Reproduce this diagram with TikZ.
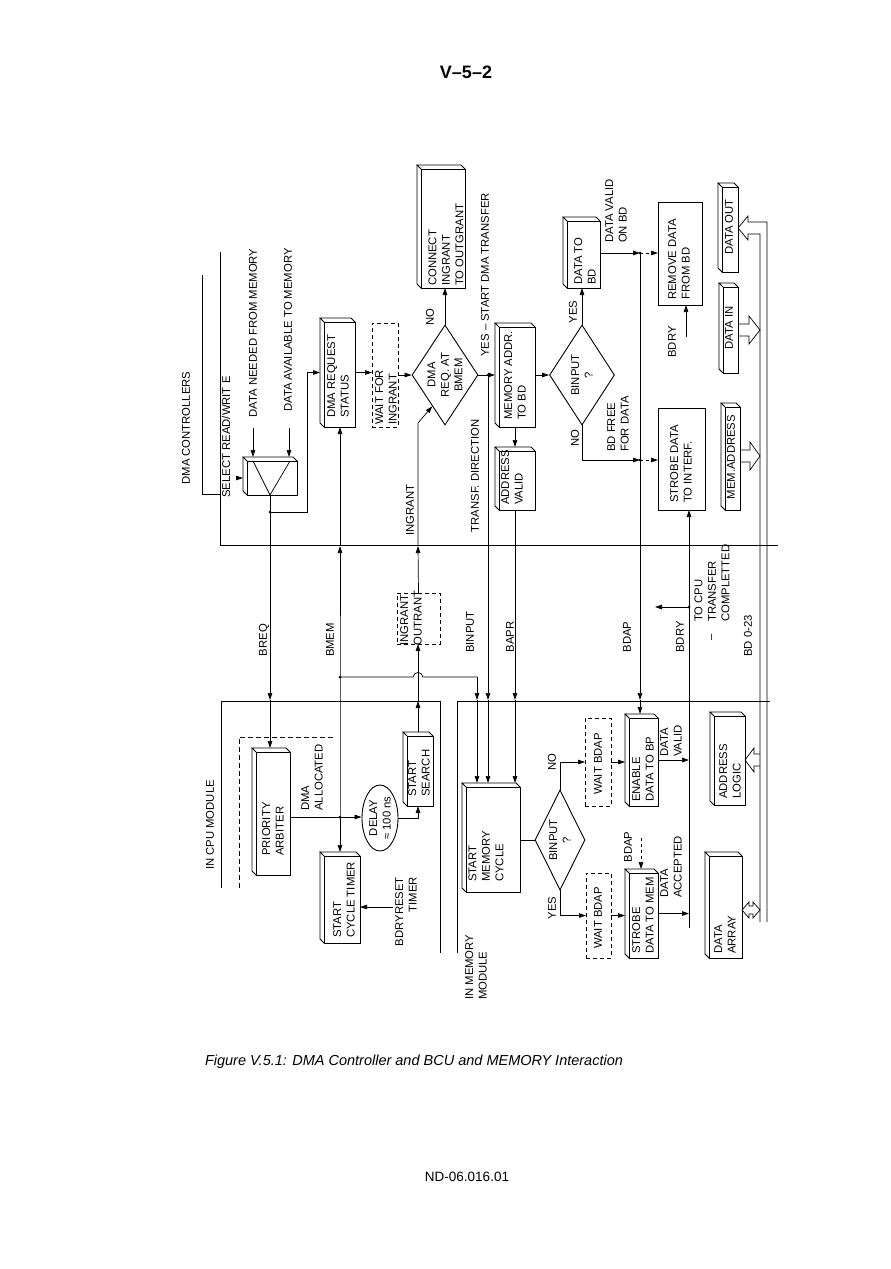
\documentclass[tikz,border=0pt]{standalone}
\usepackage{fontspec}
\setmainfont{Liberation Sans}
\usetikzlibrary{arrows.meta,shapes.geometric,calc}
\newcommand\lbl{\fontsize{11.3}{13.5}\selectfont}
\newcommand\bx[6][]{\node[inner sep=0pt,outer sep=0pt,minimum width={(#5-#3)*1pt},minimum height={(#6-#4)*1pt},#1] (#2) at ({(#3+#5)/2},{(#4+#6)/2}) {};}
\newcommand\tdf[1]{%
\draw[bxl] ([shift={(4,4)}]#1.north west) rectangle (#1.south east);
\draw[bxl] ([shift={(4,4)}]#1.north west) -- (#1.north west) -- ([shift={(-4,0)}]#1.north east) -- ([shift={(0,4)}]#1.north east);
\draw[bxl] (#1.north west) -- ([shift={(0,-4)}]#1.south west) -- ([shift={(4,0)}]#1.south west);}
\tikzset{
 t/.style={rotate=90,inner sep=0pt,font=\lbl,align=left},
 bxl/.style={line width=0.9pt},
 arr/.style={line width=0.7pt,-{Triangle[length=7pt,width=4.5pt]}},
 ln/.style={line width=0.7pt},
 dbox/.style={draw,dashed,line width=0.8pt,dash pattern=on 4pt off 3pt},
 pbox/.style={draw,line width=0.9pt},
 dot/.style={circle,fill,inner sep=0pt,minimum size=3pt}
}
\begin{document}
\begin{tikzpicture}[x=1pt,y=-1pt]
\useasboundingbox (0,0) rectangle (891,1269);
\fill[white] (0,0) rectangle (891,1269);

% header / footer
\node[font=\fontsize{18}{21}\selectfont\bfseries] (title) at (466,72) {V--5--2};
\node[font=\fontsize{14.5}{17}\selectfont\itshape] (cap) at (414,1062) {Figure V.5.1: DMA Controller and BCU and MEMORY Interaction};
\node[font=\fontsize{13.5}{16}\selectfont] (nd) at (467,1177) {ND-06.016.01};

% frame lines
\draw[ln] (202,275) -- (202,494) -- (220,494);
\draw[ln] (220,252) -- (220,545) -- (778,545);
\draw[ln] (221,888) -- (221,701) -- (440,701) -- (440,953);
\draw[ln] (457,953) -- (457,701) -- (770,701);
\draw[ln,dashed,dash pattern=on 5pt off 3pt] (239,888) -- (239,737) -- (335,737);

% boxes
\bx{mux}{243}{457}{297}{495}\tdf{mux}
\draw[ln] (253,461) -- (270,495) -- (290,461);
\bx{dmareq}{320}{318}{355}{427}\tdf{dmareq}
\bx[dbox]{waitin}{372}{323}{398}{427}
\bx{connect}{417}{165}{465}{288}\tdf{connect}
\bx{memaddr}{495}{323}{535}{427}\tdf{memaddr}
\bx{addrv}{495}{447}{535}{510}\tdf{addrv}
\bx{datatobd}{563}{217}{600}{288}\tdf{datatobd}
\bx[pbox]{remove}{658}{202}{702}{305}
\bx[pbox]{strobei}{658}{408}{705}{510}
\bx{dataout}{718}{183}{738}{272}\tdf{dataout}
\bx{datain}{719}{283}{738}{373}\tdf{datain}
\bx{memadr}{721}{403}{740}{510}\tdf{memadr}
\bx[dbox]{ingout}{397}{593}{440}{644}
\bx{arbiter}{252}{748}{290}{875}\tdf{arbiter}
\node[ellipse,draw,line width=0.9pt,inner sep=0pt,minimum width=36pt,minimum height=66pt] (delay) at (380,818) {};
\bx{search}{403}{732}{433}{806}\tdf{search}
\bx{cycle}{320}{852}{360}{943}\tdf{cycle}
\bx{startmem}{462}{783}{520}{892}\tdf{startmem}
\bx[dbox]{wb1}{585}{718}{611}{806}
\bx[dbox]{wb2}{586}{873}{611}{958}
\bx{enable}{625}{714}{658}{806}\tdf{enable}
\bx{strobem}{625}{869}{658}{958}\tdf{strobem}
\bx{addrlog}{710}{712}{745}{805}\tdf{addrlog}
\bx{darray}{705}{852}{742}{958}\tdf{darray}
\node[diamond,draw,line width=0.9pt,inner sep=0pt,minimum width=66pt,minimum height=100pt] (dia1) at (445,375) {};
\node[diamond,draw,line width=0.9pt,inner sep=0pt,minimum width=65pt,minimum height=100pt] (bin1) at (582,375) {};
\node[diamond,draw,line width=0.9pt,inner sep=0pt,minimum width=50pt,minimum height=100pt] (bin2) at (560,840) {};

% bus
\draw[ln] (767,922) -- (767,222) -- (748,222) -- (748,216) -- (738,228) -- (748,240) -- (748,234) -- (760,234) -- (760,922);
\draw[ln] (738,324) -- (749,324) -- (749,316) -- (760,330) -- (749,344) -- (749,336) -- (738,336);
\draw[ln] (740,450) -- (750,450) -- (750,442) -- (760,456) -- (750,470) -- (750,462) -- (740,462);
\draw[ln] (760,754) -- (754,754) -- (754,748) -- (745,760) -- (754,772) -- (754,766) -- (760,766);
\draw[ln] (742,910) -- (749,902) -- (749,906) -- (753,906) -- (753,902) -- (760,910) -- (753,918) -- (753,914) -- (749,914) -- (749,918) -- cycle;

% coordinates
\coordinate (sel) at (236,478);
\coordinate (dn) at (253,428);
\coordinate (da) at (289,428);
\coordinate (d1) at (270,512);
\coordinate (br1) at (270,700);
\coordinate (bm0) at (340,677);
\coordinate (bm1) at (340,817);
\coordinate (bmx) at (340,546);
\coordinate (bm2) at (477,677);
\coordinate (bm3) at (477,700);
\coordinate (ig1) at (418,701);
\coordinate (ig2) at (418,546);
\coordinate (td0) at (488,375);
\coordinate (td1) at (488,700);
\coordinate (ba1) at (515,700);
\coordinate (bd1) at (640,253);
\coordinate (bd2) at (640,460);
\coordinate (bd3) at (640,700);
\coordinate (bdryt) at (686,337);
\coordinate (c1) at (689,928);
\coordinate (c2) at (689,607);
\coordinate (tocpu) at (655,607);
\coordinate (bdapl) at (641,838);
\coordinate (brst) at (393,907);

% connectors
\draw[arr] (sel) -- (sel -| mux.west);
\draw[arr] (dn) -- (dn |- mux.north);
\draw[arr] (da) -- (da |- mux.north);
\draw[ln] (mux.south) -- (d1);
\draw[arr] (d1) -- (307,512) |- (dmareq.west);
\draw[arr] (d1) -- (br1);
\draw[arr] (br1) -- (br1 |- arbiter.north);
\draw[arr] (bm1) -- (bm0) -- (bmx);
\draw[arr] (bmx) -- (bmx |- dmareq.south);
\draw[arr] (bm1) -- (bm1 |- cycle.north);
\draw[arr] (bm1 -| arbiter.east) -- (bm1 -| delay.west);
\draw[arr] (delay.east) -| (search.south);
\draw[arr] (search.north) -- (ig1);
\draw[arr] (ig1) -- (ig1 |- ingout.south);
\draw[arr] (ingout.north) -- (ig2);
\draw[arr] (ig2) -- (418,423) -- ($(dia1.west)!0.62!(dia1.south)$);
\draw[ln] (bm0) -- (413,677) .. controls (414,671) and (422,671) .. (423,677) -- (bm2);
\draw[arr] (bm2) -- (bm3);
\draw[arr] (bm3) -- (bm3 |- startmem.north);
\draw[arr] (dmareq.east) -- (dmareq.east -| waitin.west);
\draw[arr] (waitin.east) -- (dia1.west);
\draw[arr] (dia1.north) -- (dia1.north |- connect.south);
\draw[arr] (dia1.east) -- (memaddr.west);
\draw[ln] (td0) -- (td0 |- memaddr.west);
\draw[arr] (td0) -- (td1);
\draw[arr] (td1) -- (td1 |- startmem.north);
\draw[arr] (memaddr.south) -- (addrv.north);
\draw[arr] (addrv.south) -- (ba1);
\draw[arr] (ba1) -- (ba1 |- startmem.north);
\draw[arr] (memaddr.east) -- (bin1.west);
\draw[arr] (bin1.north) -- (bin1.north |- datatobd.south);
\draw[arr] (bd1 -| datatobd.east) -- (bd1);
\draw[arr,dashed] (bd1) -- (bd1 -| remove.west);
\draw[arr] (bdryt) -- (bdryt |- remove.south);
\draw[arr] (bin1.south) |- (bd2);
\draw[arr,dashed] (bd2) -- (bd2 -| strobei.west);
\draw[arr] (bd1) -- (bd3);
\draw[arr] (bd3) -- (bd3 |- enable.north);
\draw[arr] (c1) -- (c1 |- strobei.south);
\draw[arr] (c2) -- (tocpu);
\draw[arr] (enable.east) -- (enable.east -| c1);
\draw[arr] (strobem.east) -- (strobem.east -| c1);
\draw[ln] (startmem.east |- bin2.west) -- (bin2.west);
\draw[arr] (bin2.north) |- (wb1.west);
\draw[arr] (bin2.south) |- (wb2.west);
\draw[arr] (wb1.east) -- (wb1.east -| enable.west);
\draw[arr] (wb2.east) -- (wb2.east -| strobem.west);
\draw[arr,dashed] (bdapl) -- (bdapl |- strobem.north);
\draw[arr] (brst) -- (brst -| cycle.east);
\node[dot] (dot1) at (d1) {};
\node[dot] (dot2) at (bm0) {};
\node[dot] (dot3) at (bm1) {};
\node[dot] (dot4) at (td0) {};
\node[dot] (dot5) at (bd1) {};
\node[dot] (dot6) at (bd2) {};
\node[dot] (dot7) at (c2) {};

% texts
\node[t] (tdmac) at (186,428) {DMA CONTROLLERS};
\node[t] (tsel) at (226,437) {SELECT READ/WRIT E};
\node[t] (tneed) at (253,333) {DATA NEEDED FROM MEMORY};
\node[t] (tavail) at (288,330) {DATA AVAILABLE TO MEMORY};
\node[t,anchor=west] (tdmareq) at (338,418) {DMA REQUEST\\STATUS};
\node[t,anchor=west] (twaitin) at (386,425) {WAIT FOR\\INGRANT};
\node[t,anchor=west] (tconn) at (446,286) {CONNECT\\INGRANT\\TO OUTGRANT};
\node[t] (tno1) at (430,317) {NO};
\node[t,align=center] (tdia1) at (dia1) {DMA\\REQ. AT\\BMEM};
\node[t] (tyes1) at (485,275) {YES -- START DMA TRANSFER};
\node[t,anchor=west] (tmemaddr) at (515,420) {MEMORY ADDR.\\TO BD};
\node[t,anchor=west] (taddrv) at (512,505) {ADDRESS\\VALID};
\node[t,align=center] (tbin1) at (bin1) {BINPUT\\?};
\node[t] (tyes2) at (573,312) {YES};
\node[t] (tno2) at (575,438) {NO};
\node[t,anchor=west] (tdtbd) at (585,285) {DATA TO\\BD};
\node[t,anchor=west] (tdvbd) at (616,243) {DATA VALID\\ON BD};
\node[t,anchor=west] (trem) at (679,300) {REMOVE DATA\\FROM BD};
\node[t] (tbdry1) at (672,342) {BDRY};
\node[t,anchor=west] (tbdfree) at (618,452) {BD FREE\\FOR DATA};
\node[t,anchor=west] (tstrobei) at (681,503) {STROBE DATA\\TO INTERF.};
\node[t] (tdout) at (729,227) {DATA OUT};
\node[t] (tdin) at (729,328) {DATA IN};
\node[t] (tmema) at (731,457) {MEM.ADDRESS};
\node[t] (tingr) at (410,510) {INGRANT};
\node[t] (ttransf) at (475,476) {TRANSF. DIRECTION};
\node[t] (tbreq) at (264,640) {BREQ};
\node[t] (tbmem) at (330,640) {BMEM};
\node[t] (tingout) at (411,618) {INGRANT\\OUTRANT};
\node[t] (tbinput) at (470,632) {BINPUT};
\node[t] (tbapr) at (510,637) {BAPR};
\node[t] (tbdap1) at (627,637) {BDAP};
\node[t] (tbdry2) at (680,637) {BDRY};
\node[t,anchor=west] (ttocpu) at (712,622) {TO CPU\\TRANSFER\\COMPLETTED};
\node[t] (tdash) at (713,637) {--};
\node[t] (tbd) at (748,636) {BD 0-23};
\node[t] (tcpu) at (210,825) {IN CPU MODULE};
\node[t,anchor=west] (tarb) at (273,856) {PRIORITY\\ARBITER};
\node[t,anchor=west] (talloc) at (312,811) {DMA\\ALLOCATED};
\node[t,align=center] (tdelay) at (delay) {DELAY\\≈ 100 ns};
\node[t,anchor=west] (tss) at (419,797) {START\\SEARCH};
\node[t,anchor=west] (tsct) at (344,938) {START\\CYCLE TIMER};
\node[t,anchor=east,align=right] (tbrst) at (406,877) {BDRYRESET\\TIMER};
\node[t,anchor=west] (tmemmod) at (476,1000) {IN MEMORY\\MODULE};
\node[t,anchor=west] (tsmc) at (486,882) {START\\MEMORY\\CYCLE};
\node[t,align=center] (tbin2) at (bin2) {BINPUT\\?};
\node[t] (tno3) at (552,762) {NO};
\node[t] (tyes3) at (552,908) {YES};
\node[t] (twb1) at (598,764) {WAIT BDAP};
\node[t] (twb2) at (598,918) {WAIT BDAP};
\node[t,anchor=west] (ten) at (643,802) {ENABLE\\DATA TO BP};
\node[t,anchor=west] (tdv) at (671,757) {DATA\\VALID};
\node[t] (tbdap2) at (628,847) {BDAP};
\node[t,anchor=west] (tstm) at (643,954) {STROBE\\DATA TO MEM};
\node[t,anchor=west] (tda) at (671,898) {DATA\\ACCEPTED};
\node[t,anchor=west] (tal) at (730,799) {ADDRESS\\LOGIC};
\node[t,anchor=west] (tdarr) at (725,954) {DATA\\ARRAY};
\end{tikzpicture}
\end{document}
